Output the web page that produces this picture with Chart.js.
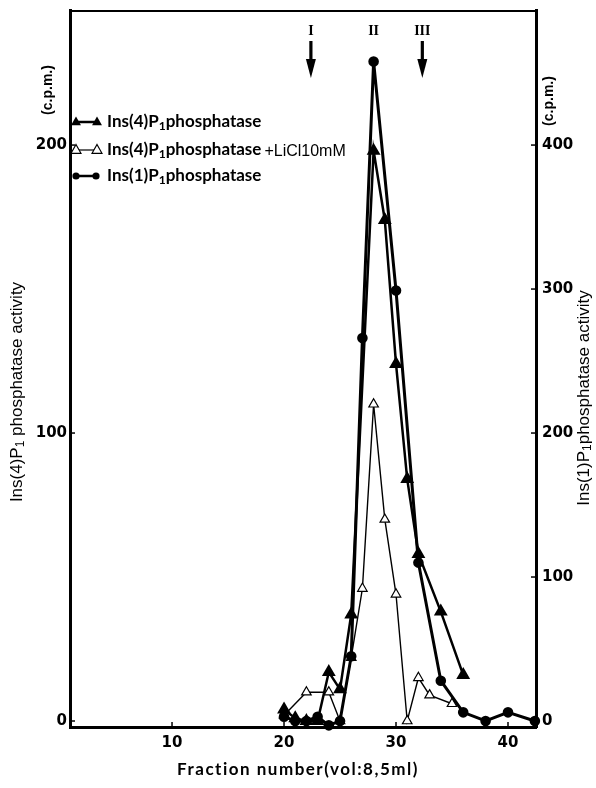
<!DOCTYPE html>
<html><head><meta charset="utf-8">
<script src="https://cdn.jsdelivr.net/npm/chart.js@4/dist/chart.umd.min.js"></script>
<style>html,body{margin:0;padding:0;background:#fff}#wrap{width:596px;height:788px}</style>
</head><body><div id="wrap"><canvas id="c" width="596" height="788"></canvas></div>
<script>
// ---- data ----
const fracIns4 = [20, 21, 22, 23, 24, 25, 26, 28, 29, 30, 31, 32, 34, 36];
const actIns4  = [4, 1, 0, 0, 17, 11, 37, 198, 174, 124, 84, 58, 38, 16];

const fracLiCl = [20, 22, 24, 25, 26, 27, 28, 29, 30, 31, 32, 33, 35];
const actLiCl  = [2, 10, 10, 0, 22, 46, 110, 70, 44, 0, 15, 9, 6];

const fracIns1 = [20, 21, 22, 23, 24, 25, 26, 27, 28, 30, 32, 34, 36, 38, 40, 42.4];
const actIns1  = [3, 0, 0, 3, -3, 0, 45, 266, 458, 299, 110, 28, 6, 0, 6, 0];

const xTicks = [10, 20, 30, 40];
const leftTicks = [0, 100, 200];
const rightTicks = [0, 100, 200, 300, 400];

const markerLabels = ['I', 'II', 'III'];
const markerFractions = [22.4, 28, 32.35];
const markerHasArrow = [true, false, true];

const legendLabels = ['Ins(4)P|1|phosphatase', 'Ins(4)P|1|phosphatase', 'Ins(1)P|1|phosphatase'];
const legendSuffix = ['', '+LiCl10mM', ''];
const xTitle = 'Fraction number(vol:8,5ml)';
const leftTitle = 'Ins(4)P|1| phosphatase activity';
const rightTitle = 'Ins(1)P|1|phosphatase activity';
const unitLabel = '(c.p.m.)';

const pts = (xs, ys) => xs.map((x, i) => ({x, y: ys[i]}));

function richParts(str, font, subFont, subDy) {
  return str.split('|').map((t, i) => ({t, f: i % 2 ? subFont : font, dy: i % 2 ? subDy : 0}));
}
function richWidth(ctx, parts) {
  let w = 0;
  for (const p of parts) { ctx.font = p.f; w += ctx.measureText(p.t).width; }
  return w;
}
function drawRich(ctx, parts, x, y, align) {
  const w = richWidth(ctx, parts);
  let cx = align === 'center' ? x - w / 2 : x;
  ctx.textAlign = 'left'; ctx.textBaseline = 'middle';
  for (const p of parts) { ctx.font = p.f; ctx.fillText(p.t, cx, y + p.dy); cx += ctx.measureText(p.t).width; }
  return cx;
}
function tri(ctx, x, y, r, filled) {
  ctx.beginPath();
  ctx.moveTo(x, y - r);
  ctx.lineTo(x + r * 0.9, y + r * 0.6);
  ctx.lineTo(x - r * 0.9, y + r * 0.6);
  ctx.closePath();
  if (filled) { ctx.fillStyle = '#000'; ctx.fill(); }
  else { ctx.fillStyle = '#fff'; ctx.fill(); ctx.lineWidth = 1.2; ctx.strokeStyle = '#000'; ctx.stroke(); }
}

const extras = {
  id: 'extras',
  afterDraw(chart) {
    const ctx = chart.ctx;
    const a = chart.chartArea;
    const xs = chart.scales.x, yl = chart.scales.y, yr = chart.scales.y2;
    ctx.save();
    ctx.strokeStyle = '#000'; ctx.fillStyle = '#000';
    // top frame line
    ctx.lineWidth = 2;
    ctx.beginPath(); ctx.moveTo(a.left, a.top + 1); ctx.lineTo(a.right, a.top + 1); ctx.stroke();
    // inner tick marks
    ctx.lineWidth = 1.5;
    for (const v of leftTicks) { const y = yl.getPixelForValue(v); ctx.beginPath(); ctx.moveTo(a.left, y); ctx.lineTo(a.left + 5, y); ctx.stroke(); }
    for (const v of rightTicks) { const y = yr.getPixelForValue(v); ctx.beginPath(); ctx.moveTo(a.right, y); ctx.lineTo(a.right - 5, y); ctx.stroke(); }
    for (const v of xTicks) { const x = xs.getPixelForValue(v); ctx.beginPath(); ctx.moveTo(x, a.bottom); ctx.lineTo(x, a.bottom - 5); ctx.stroke(); }
    // fraction markers
    markerLabels.forEach((lab, i) => {
      const x = xs.getPixelForValue(markerFractions[i]);
      ctx.font = 'bold 14px "Liberation Serif"'; ctx.textAlign = 'center'; ctx.textBaseline = 'middle';
      ctx.fillText(lab, x, 31);
      if (markerHasArrow[i]) {
        ctx.lineWidth = 3.2;
        ctx.beginPath(); ctx.moveTo(x, 41); ctx.lineTo(x, 64); ctx.stroke();
        ctx.beginPath(); ctx.moveTo(x - 5, 59); ctx.lineTo(x + 5, 59); ctx.lineTo(x, 78); ctx.closePath(); ctx.fill();
      }
    });
    // legend
    const lf = 'bold 17px Lato', lsf = 'bold 12px Lato';
    const rows = [122, 150, 176];
    rows.forEach((ry, i) => {
      ctx.lineWidth = i === 1 ? 1.2 : 2.5;
      ctx.beginPath(); ctx.moveTo(76, ry); ctx.lineTo(96, ry); ctx.stroke();
      if (i === 2) {
        ctx.beginPath(); ctx.arc(76, ry, 3.6, 0, Math.PI * 2); ctx.fill();
        ctx.beginPath(); ctx.arc(96, ry, 3.6, 0, Math.PI * 2); ctx.fill();
      } else {
        tri(ctx, 76, ry, 5.5, i === 0); tri(ctx, 97, ry, 5.5, i === 0);
      }
      ctx.fillStyle = '#000';
      const end = drawRich(ctx, richParts(legendLabels[i], lf, lsf, 4), 107, ry, 'left');
      if (legendSuffix[i]) { ctx.font = '16px "Liberation Sans"'; ctx.textBaseline = 'middle'; ctx.fillText(legendSuffix[i], end + 3, ry + 2); }
    });
    // unit labels
    ctx.font = 'bold 14px "Liberation Sans"';
    ctx.save(); ctx.translate(48, 90); ctx.rotate(-Math.PI / 2); ctx.textAlign = 'center'; ctx.textBaseline = 'middle'; ctx.fillText(unitLabel, 0, 0); ctx.restore();
    ctx.save(); ctx.translate(549, 101); ctx.rotate(-Math.PI / 2); ctx.textAlign = 'center'; ctx.textBaseline = 'middle'; ctx.fillText(unitLabel, 0, 0); ctx.restore();
    // axis titles
    const tf = '17px "Liberation Sans"', tsf = '12px "Liberation Sans"';
    ctx.save(); ctx.translate(17, 392); ctx.rotate(-Math.PI / 2); drawRich(ctx, richParts(leftTitle, tf, tsf, 4), 0, 0, 'center'); ctx.restore();
    ctx.save(); ctx.translate(584, 398); ctx.rotate(-Math.PI / 2); drawRich(ctx, richParts(rightTitle, tf, tsf, 4), 0, 0, 'center'); ctx.restore();
    ctx.save(); ctx.font = 'bold 17px Lato'; ctx.letterSpacing = '1.5px'; ctx.textAlign = 'center'; ctx.textBaseline = 'middle';
    ctx.fillText(xTitle, 298, 770); ctx.restore();
    ctx.restore();
  }
};

const zeroPad = s => { s.paddingTop = 0; s.paddingBottom = 0; s.paddingLeft = 0; s.paddingRight = 0; };
const tickFont = {family: 'DejaVu Sans', size: 15, weight: 'bold'};

new Chart(document.getElementById('c'), {
  type: 'line',
  data: {
    datasets: [
      {label: 'Ins(1)P1 phosphatase', data: pts(fracIns1, actIns1), yAxisID: 'y2',
       borderColor: '#000', borderWidth: 3, pointStyle: 'circle', pointRadius: 3.8,
       pointBackgroundColor: '#000', pointBorderColor: '#000', tension: 0, clip: false},
      {label: 'Ins(4)P1 phosphatase', data: pts(fracIns4, actIns4), yAxisID: 'y',
       borderColor: '#000', borderWidth: 2.5, pointStyle: 'triangle', pointRadius: 5.5,
       pointBackgroundColor: '#000', pointBorderColor: '#000', tension: 0, clip: false},
      {label: 'Ins(4)P1 phosphatase +LiCl10mM', data: pts(fracLiCl, actLiCl), yAxisID: 'y',
       borderColor: '#000', borderWidth: 1.4, pointStyle: 'triangle', pointRadius: 5.5,
       pointBackgroundColor: '#fff', pointBorderColor: '#000', pointBorderWidth: 1.2, tension: 0, clip: false}
    ]
  },
  options: {
    responsive: false, animation: false, devicePixelRatio: 1,
    layout: {padding: {top: 10, left: 0, right: 0, bottom: 0}},
    plugins: {legend: {display: false}, tooltip: {enabled: false}},
    scales: {
      x: {type: 'linear', position: 'bottom', min: 0.89, max: 42.5,
          afterBuildTicks: s => { s.ticks = xTicks.map(v => ({value: v})); },
          afterFit: s => { s.height = 61; zeroPad(s); },
          ticks: {font: tickFont, color: '#000', padding: 7, maxRotation: 0, autoSkip: false},
          grid: {drawOnChartArea: false, drawTicks: false, color: '#000'},
          border: {color: '#000', width: 3}},
      y: {type: 'linear', position: 'left', min: -2.08, max: 246.9,
          afterBuildTicks: s => { s.ticks = leftTicks.map(v => ({value: v})); },
          afterFit: s => { s.width = 70; zeroPad(s); },
          ticks: {font: tickFont, color: '#000', padding: 3},
          grid: {drawOnChartArea: false, drawTicks: false, color: '#000'},
          border: {color: '#000', width: 3}},
      y2: {type: 'linear', position: 'right', min: -4.16, max: 493.8,
          afterBuildTicks: s => { s.ticks = rightTicks.map(v => ({value: v})); },
          afterFit: s => { s.width = 60; zeroPad(s); },
          ticks: {font: tickFont, color: '#000', padding: 6},
          grid: {drawOnChartArea: false, drawTicks: false, color: '#000'},
          border: {color: '#000', width: 3}}
    }
  },
  plugins: [extras]
});
</script>
</body></html>
